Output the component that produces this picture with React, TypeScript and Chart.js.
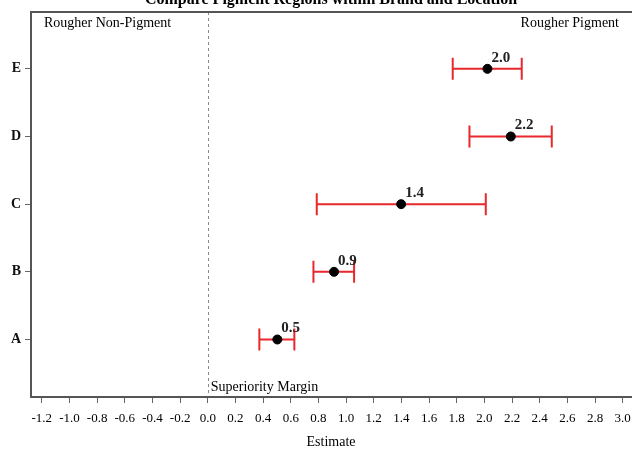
import React, { useEffect, useRef } from "react";
import { Chart, registerables } from "chart.js";

Chart.register(...registerables);

const categories = ["A", "B", "C", "D", "E"];
const estimates = [0.503, 0.913, 1.398, 2.191, 2.022];
const lowers = [0.373, 0.764, 0.788, 1.892, 1.771];
const uppers = [0.626, 1.058, 2.01, 2.487, 2.27];
const xTicks = [-1.2, -1.0, -0.8, -0.6, -0.4, -0.2, 0.0, 0.2, 0.4, 0.6, 0.8, 1.0, 1.2, 1.4, 1.6, 1.8, 2.0, 2.2, 2.4, 2.6, 2.8, 3.0];
const titleText = "Compare Pigment Regions within Brand and Location";
const xTitle = "Estimate";
const leftNote = "Rougher Non-Pigment";
const rightNote = "Rougher Pigment";
const marginNote = "Superiority Margin";
const marginValue = 0;

const SERIF = "'Liberation Serif', 'DejaVu Serif', serif";
const RED = "#e8282c";

const overlay = {
  id: "overlay",
  beforeDatasetsDraw(chart: any) {
    const { ctx, chartArea, scales } = chart;
    const xs = scales.x;
    const ys = scales.y;
    ctx.save();
    const x0 = Math.round(xs.getPixelForValue(marginValue)) + 0.5;
    ctx.strokeStyle = "#8a8a8a";
    ctx.lineWidth = 1;
    ctx.setLineDash([3, 3]);
    ctx.beginPath();
    ctx.moveTo(x0, chartArea.top);
    ctx.lineTo(x0, chartArea.bottom);
    ctx.stroke();
    ctx.setLineDash([]);
    ctx.strokeStyle = RED;
    ctx.lineWidth = 2;
    for (let i = 0; i < categories.length; i++) {
      const y = ys.getPixelForValue(i);
      const xl = xs.getPixelForValue(lowers[i]);
      const xu = xs.getPixelForValue(uppers[i]);
      ctx.beginPath();
      ctx.moveTo(xl, y);
      ctx.lineTo(xu, y);
      ctx.moveTo(xl, y - 11);
      ctx.lineTo(xl, y + 11);
      ctx.moveTo(xu, y - 11);
      ctx.lineTo(xu, y + 11);
      ctx.stroke();
    }
    ctx.restore();
  },
  afterDraw(chart: any) {
    const { ctx, chartArea, scales } = chart;
    const xs = scales.x;
    const ys = scales.y;
    ctx.save();
    ctx.strokeStyle = "#555";
    ctx.lineWidth = 2;
    ctx.beginPath();
    ctx.moveTo(chartArea.right, chartArea.top);
    ctx.lineTo(chartArea.left, chartArea.top);
    ctx.lineTo(chartArea.left, chartArea.bottom);
    ctx.lineTo(chartArea.right, chartArea.bottom);
    ctx.stroke();
    ctx.fillStyle = "#222";
    ctx.font = "bold 15px " + SERIF;
    ctx.textAlign = "left";
    ctx.textBaseline = "alphabetic";
    for (let i = 0; i < categories.length; i++) {
      const x = xs.getPixelForValue(estimates[i]);
      const y = ys.getPixelForValue(i);
      ctx.fillText(estimates[i].toFixed(1), x + 4, y - 7);
    }
    ctx.fillStyle = "#000";
    ctx.font = "14px " + SERIF;
    ctx.fillText(leftNote, 44, 27);
    ctx.textAlign = "right";
    ctx.fillText(rightNote, 619, 27);
    ctx.textAlign = "left";
    ctx.fillText(marginNote, xs.getPixelForValue(marginValue) + 3, 391);
    ctx.textAlign = "center";
    ctx.fillText(xTitle, 331, 446);
    ctx.font = "bold 16px " + SERIF;
    ctx.fillText(titleText, 331, 4);
    ctx.restore();
  },
};

export default function App() {
  const ref = useRef<HTMLCanvasElement | null>(null);
  useEffect(() => {
    if (!ref.current) return;
    const chart = new Chart(ref.current, {
      type: "scatter",
      data: {
        datasets: [
          {
            data: estimates.map((v, i) => ({ x: v, y: i })),
            backgroundColor: "#000",
            borderColor: "#000",
            pointRadius: 4.5,
            pointHoverRadius: 4.5,
          },
        ],
      },
      options: {
        animation: false,
        responsive: false,
        events: [],
        layout: { autoPadding: false, padding: { top: 12, left: 0, right: 0, bottom: 0 } },
        plugins: { legend: { display: false }, tooltip: { enabled: false }, title: { display: false } },
        scales: {
          x: {
            type: "linear",
            min: -1.278,
            max: 3.125,
            afterBuildTicks: (s: any) => {
              s.ticks = xTicks.map((v) => ({ value: v }));
            },
            afterFit: (s: any) => {
              s.height = 52;
              s.paddingLeft = 0;
              s.paddingRight = 0;
            },
            ticks: {
              autoSkip: false,
              maxRotation: 0,
              padding: 8,
              color: "#000",
              font: { family: SERIF, size: 13 },
              callback: (v: any) => Number(v).toFixed(1),
            },
            grid: { drawOnChartArea: false, drawTicks: true, tickLength: 6, color: "#666", lineWidth: 1 },
            border: { display: false },
          },
          y: {
            type: "linear",
            min: -0.85,
            max: 4.84,
            afterBuildTicks: (s: any) => {
              s.ticks = categories.map((_, i) => ({ value: i }));
            },
            afterFit: (s: any) => {
              s.width = 31;
              s.paddingTop = 0;
              s.paddingBottom = 0;
            },
            ticks: {
              autoSkip: false,
              padding: 4,
              color: "#111",
              font: { family: SERIF, size: 14, weight: "bold" },
              callback: (v: any) => categories[Number(v)] ?? "",
            },
            grid: { drawOnChartArea: false, drawTicks: true, tickLength: 6, color: "#666", lineWidth: 1 },
            border: { display: false },
          },
        },
      },
      plugins: [overlay],
    } as any);
    return () => chart.destroy();
  }, []);
  return (
    <div style={{ position: "absolute", left: 0, top: 0, width: 632, height: 449, overflow: "hidden", background: "#fff" }}>
      <canvas ref={ref} width={640} height={449} style={{ display: "block" }} />
    </div>
  );
}
